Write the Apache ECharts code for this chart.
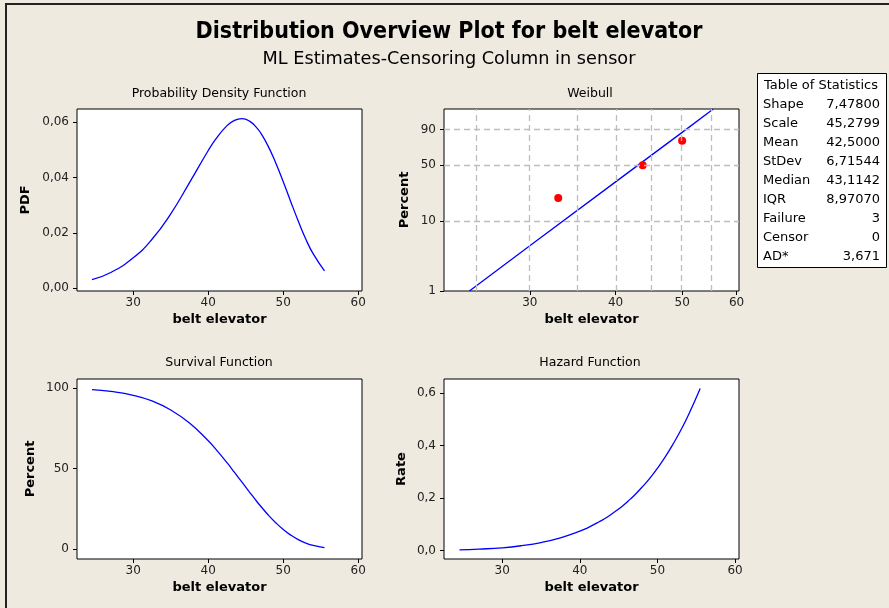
<!DOCTYPE html>
<html>
<head>
<meta charset="utf-8">
<script src="https://cdn.jsdelivr.net/npm/echarts@6/dist/echarts.min.js"></script>
<style>
  html, body { margin: 0; padding: 0; background: #eeeae0; }
  #chart { width: 889px; height: 608px; }
</style>
</head>
<body>
<div id="chart"></div>
<script>
  // values
  const xs = [24.5, 27, 30, 32.5, 35, 37.5, 40, 41, 42.5, 43.5, 44.5, 45.5, 46.5, 47, 48, 49, 50, 51, 52, 53, 54, 55.5]
  const pdfVals = [0.0031, 0.0057, 0.0110, 0.0177, 0.0269, 0.0382, 0.0498, 0.0539, 0.0588, 0.0607, 0.0613, 0.0604, 0.0579, 0.0561, 0.0513, 0.0453, 0.0385, 0.0313, 0.0243, 0.0178, 0.0124, 0.0063]
  const survVals = [99.0, 97.9, 95.5, 92.0, 86.4, 78.3, 67.3, 62.1, 53.7, 47.7, 41.6, 35.5, 29.5, 26.7, 21.3, 16.5, 12.3, 8.8, 6.0, 3.9, 2.4, 1.0]
  const hazVals = [0.003, 0.006, 0.011, 0.019, 0.031, 0.049, 0.074, 0.087, 0.110, 0.127, 0.148, 0.170, 0.196, 0.210, 0.241, 0.275, 0.314, 0.357, 0.405, 0.458, 0.517, 0.617]

  // weibull probability plot
  const fitX = [24.5, 30, 40, 50, 55.5]
  const fitPct = [1.0, 4.5, 32.7, 87.7, 99.0]
  const failX = [33, 43.8, 50]
  const failPct = [20.6, 50, 79.4]

  // ticks
  const xTicks = [30, 40, 50, 60]
  const pdfTicks = [0, 0.02, 0.04, 0.06]
  const survTicks = [0, 50, 100]
  const hazTicks = [0, 0.2, 0.4, 0.6]
  const pctTicks = [1, 10, 50, 90]
  const wblGridX = [25, 30, 35, 40, 45, 50, 55]
  const wblGridY = [10, 50, 90]

  const statNames = ['Shape', 'Scale', 'Mean', 'StDev', 'Median', 'IQR', 'Failure', 'Censor', 'AD*']
  const statValues = ['7,47800', '45,2799', '42,5000', '6,71544', '43,1142', '8,97070', '3', '0', '3,671']

  const FONT = '"DejaVu Sans", sans-serif'
  const tx = v => Math.log(v)
  const tp = p => Math.log(-Math.log(1 - p / 100))
  const comma = d => v => v.toFixed(d).replace('.', ',')

  const chart = echarts.init(document.getElementById('chart'))

  const gridBox = (left, top, width, height) => ({
    left, top, width, height,
    show: true,
    backgroundColor: '#fff',
    borderColor: '#000',
    borderWidth: 1,
  })

  const xAx = (idx, min, max, ticks, fmt) => ({
    type: 'value',
    gridIndex: idx,
    min, max,
    name: 'belt elevator',
    nameLocation: 'middle',
    nameGap: 22,
    nameTextStyle: { fontFamily: FONT, fontWeight: 'bold', fontSize: 13, color: '#000' },
    axisLine: { show: false, onZero: false },
    axisTick: { show: true, length: 4, customValues: ticks, lineStyle: { color: '#000' } },
    axisLabel: { customValues: ticks, formatter: fmt, margin: 6, fontFamily: FONT, fontSize: 12, color: '#222' },
    splitLine: { show: false },
  })

  const yAx = (idx, min, max, ticks, fmt, name, gap) => ({
    type: 'value',
    gridIndex: idx,
    min, max,
    name,
    nameLocation: 'middle',
    nameRotate: 90,
    nameGap: gap,
    nameTextStyle: { fontFamily: FONT, fontWeight: 'bold', fontSize: 13, color: '#000' },
    axisLine: { show: false, onZero: false },
    axisTick: { show: true, length: 4, customValues: ticks, lineStyle: { color: '#000' } },
    axisLabel: { customValues: ticks, formatter: fmt, margin: 8, fontFamily: FONT, fontSize: 12, color: '#222' },
    splitLine: { show: false },
  })

  const blueLine = (idx, ys) => ({
    type: 'line',
    xAxisIndex: idx,
    yAxisIndex: idx,
    data: xs.map((x, i) => [x, ys[i]]),
    smooth: true,
    showSymbol: false,
    lineStyle: { color: '#0000ff', width: 1.3 },
    z: 3,
  })

  const txt = (x, y, text, size, weight, align) => ({
    type: 'text',
    x, y,
    style: {
      text,
      fontFamily: FONT,
      fontSize: size,
      fontWeight: weight || 'normal',
      fill: '#000',
      textAlign: align || 'center',
      textVerticalAlign: 'middle',
    },
  })

  const graphics = [
    { type: 'polyline', shape: { points: [[6, 608], [6, 4], [889, 4]] }, style: { stroke: '#222', lineWidth: 2, fill: null } },
    {
      type: 'text', x: 449, y: 32,
      style: { text: 'Distribution Overview Plot for belt elevator', fontFamily: '"DejaVu Sans Condensed", "DejaVu Sans", sans-serif', fontSize: 23, fontWeight: 'bold', fill: '#000', textAlign: 'center', textVerticalAlign: 'middle' },
    },
    txt(449, 59, 'ML Estimates-Censoring Column in sensor', 17.7, 'normal'),
    txt(219, 94, 'Probability Density Function', 12.5),
    txt(590, 94, 'Weibull', 12.5),
    txt(219, 363, 'Survival Function', 12.5),
    txt(590, 363, 'Hazard Function', 12.5),
    { type: 'rect', shape: { x: 757.5, y: 73.5, width: 129, height: 194 }, style: { fill: '#fff', stroke: '#000', lineWidth: 1 } },
    txt(821, 86, 'Table of Statistics', 13),
  ]
  statNames.forEach((n, i) => {
    const y = 105 + i * 19
    graphics.push(txt(763, y, n, 13, 'normal', 'left'))
    graphics.push(txt(880, y, statValues[i], 13, 'normal', 'right'))
  })

  chart.setOption({
    animation: false,
    backgroundColor: '#eeeae0',
    grid: [
      gridBox(77, 109, 285, 182),
      gridBox(444, 109, 295, 182),
      gridBox(77, 379, 285, 180),
      gridBox(444, 379, 295, 180),
    ],
    xAxis: [
      xAx(0, 22.5, 60.5, xTicks),
      xAx(1, tx(22.5), tx(60.5), xTicks.map(tx), v => String(Math.round(Math.exp(v)))),
      xAx(2, 22.5, 60.5, xTicks),
      xAx(3, 22.5, 60.5, xTicks),
    ],
    yAxis: [
      yAx(0, -0.001, 0.0648, pdfTicks, comma(2), 'PDF', 45),
      yAx(1, tp(1), tp(99), pctTicks.map(tp), v => String(Math.round(100 * (1 - Math.exp(-Math.exp(v))))), 'Percent', 33),
      yAx(2, -6, 105.6, survTicks, v => String(v), 'Percent', 40),
      yAx(3, -0.0317, 0.653, hazTicks, comma(1), 'Rate', 36),
    ],
    graphic: graphics,
    series: [
      blueLine(0, pdfVals),
      {
        type: 'line',
        xAxisIndex: 1,
        yAxisIndex: 1,
        data: [],
        z: 1,
        markLine: {
          silent: true,
          symbol: ['none', 'none'],
          label: { show: false },
          lineStyle: { color: '#bdbdbd', type: [6, 4], width: 1.3 },
          data: wblGridX.map(v => ({ xAxis: tx(v) })).concat(wblGridY.map(p => ({ yAxis: tp(p) }))),
        },
      },
      {
        type: 'line',
        xAxisIndex: 1,
        yAxisIndex: 1,
        data: fitX.map((x, i) => [tx(x), tp(fitPct[i])]),
        showSymbol: false,
        lineStyle: { color: '#0000ff', width: 1.3 },
        z: 3,
      },
      {
        type: 'scatter',
        xAxisIndex: 1,
        yAxisIndex: 1,
        data: failX.map((x, i) => [tx(x), tp(failPct[i])]),
        symbolSize: 8,
        itemStyle: { color: '#ff0000', opacity: 1 },
        z: 4,
      },
      blueLine(2, survVals),
      blueLine(3, hazVals),
    ],
  })
</script>
</body>
</html>
